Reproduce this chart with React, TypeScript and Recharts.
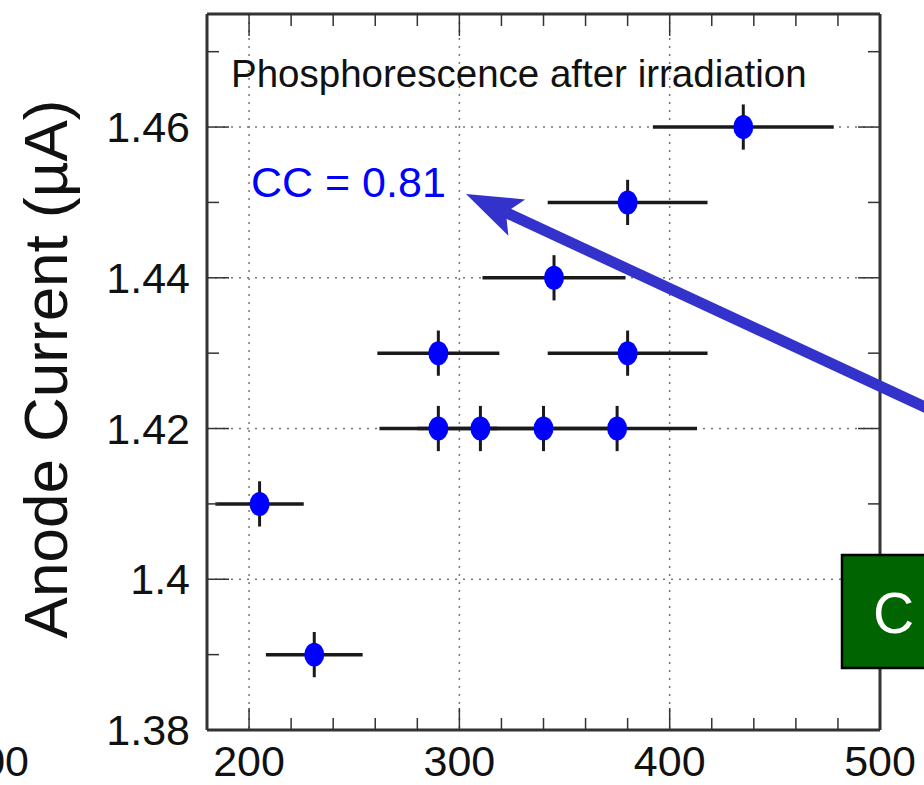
import React from 'react';
import { ScatterChart, Scatter, XAxis, YAxis, CartesianGrid, ErrorBar, ReferenceLine } from 'recharts';

// wavelength (x) vs anode current (y)
const wavelength = [435, 380, 345, 290, 380, 290, 310, 340, 375, 205, 231];
const anodeCurrent = [1.46, 1.45, 1.44, 1.43, 1.43, 1.42, 1.42, 1.42, 1.42, 1.41, 1.39];
const wavelengthErr = [43, 38, 34, 29, 38, 28, 30, 33, 38, 21, 23];
const currentErr = [0.003, 0.003, 0.003, 0.003, 0.003, 0.003, 0.003, 0.003, 0.003, 0.003, 0.003];

const xTicks = [180, 200, 220, 240, 260, 280, 300, 320, 340, 360, 380, 400, 420, 440, 460, 480, 500];
const xLabelTicks = [200, 300, 400, 500];
const yTicks = [1.38, 1.39, 1.4, 1.41, 1.42, 1.43, 1.44, 1.45, 1.46, 1.47];
const yLabelTicks = [1.38, 1.4, 1.42, 1.44, 1.46];
const xGrid = [200, 300, 400];
const yGrid = [1.4, 1.42, 1.44, 1.46];

const data = wavelength.map((x, i) => ({
  x,
  y: anodeCurrent[i],
  xErr: wavelengthErr[i],
  yErr: currentErr[i],
}));

const W = 924;
const H = 785;
const M = { top: 14, right: 44, bottom: 0, left: 0 };
const X_AXIS_H = 55;
const Y_AXIS_W = 207;
const PLOT_W = W - M.left - M.right - Y_AXIS_W;
const PLOT_H = H - M.top - M.bottom - X_AXIS_H;

const FONT = "'Liberation Sans', Arial, Helvetica, sans-serif";
const FRAME = '#333';
const MAJOR = 22;
const MINOR = 12;

const isMajorX = (v: number) => xLabelTicks.includes(v);
const isMajorY = (v: number) => yLabelTicks.some(t => Math.abs(t - v) < 1e-6);
const fmtY = (v: number) => String(Number(v.toFixed(2)));

// bottom axis tick, also draws the mirrored tick on the top frame
const BottomTick = ({ x, y, payload }: any) => {
  const major = isMajorX(payload.value);
  const len = major ? MAJOR : MINOR;
  const top = y - PLOT_H;
  return (
    <g>
      <line x1={x} y1={y} x2={x} y2={y - len} stroke={FRAME} strokeWidth={1.5} />
      <line x1={x} y1={top} x2={x} y2={top + len} stroke={FRAME} strokeWidth={1.5} />
      {major && (
        <text x={x} y={y + 46} textAnchor="middle" fontSize={43} fontFamily={FONT} fill="#111">
          {payload.value}
        </text>
      )}
    </g>
  );
};

// left axis tick, also draws the mirrored tick on the right frame
const LeftTick = ({ x, y, payload }: any) => {
  const major = isMajorY(payload.value);
  const len = major ? MAJOR : MINOR;
  const right = x + PLOT_W;
  return (
    <g>
      <line x1={x} y1={y} x2={x + len} y2={y} stroke={FRAME} strokeWidth={1.5} />
      <line x1={right} y1={y} x2={right - len} y2={y} stroke={FRAME} strokeWidth={1.5} />
      {major && (
        <text x={x - 17} y={y + 15} textAnchor="end" fontSize={43} fontFamily={FONT} fill="#111">
          {fmtY(payload.value)}
        </text>
      )}
    </g>
  );
};

const Dot = ({ cx, cy }: any) => <ellipse cx={cx} cy={cy} rx={10} ry={12} fill="#0000ff" />;

const Annotations = () => {
  // arrow pointing at the CC label, entering from the right edge
  const tip = [466, 194];
  const dir = [0.907, 0.421];
  const perp = [-dir[1], dir[0]];
  const headLen = 56;
  const halfW = 20;
  const base = [tip[0] + dir[0] * headLen, tip[1] + dir[1] * headLen];
  const notch = [tip[0] + dir[0] * 44, tip[1] + dir[1] * 44];
  const w1 = [base[0] + perp[0] * halfW, base[1] + perp[1] * halfW];
  const w2 = [base[0] - perp[0] * halfW, base[1] - perp[1] * halfW];
  const end = [tip[0] + dir[0] * 620, tip[1] + dir[1] * 620];
  return (
    <svg width={W} height={H} style={{ position: 'absolute', left: 0, top: 0, pointerEvents: 'none' }}>
      <text x={231} y={87} fontSize={38.5} fontFamily={FONT} fill="#111">
        Phosphorescence after irradiation
      </text>
      <text x={251} y={197} fontSize={43} fontFamily={FONT} fill="#0000ff">
        CC = 0.81
      </text>
      <line x1={notch[0]} y1={notch[1]} x2={end[0]} y2={end[1]} stroke="#3333cc" strokeWidth={11} />
      <polygon
        points={`${tip[0]},${tip[1]} ${w1[0]},${w1[1]} ${notch[0]},${notch[1]} ${w2[0]},${w2[1]}`}
        fill="#3333cc"
      />
      <rect x={842} y={555} width={100} height={113} fill="#006400" stroke="#000" strokeWidth={2.5} />
      <text x={873} y={633} fontSize={57} fontFamily={FONT} fill="#fff">
        C
      </text>
      <text x={29} y={776} textAnchor="end" fontSize={43} fontFamily={FONT} fill="#111">
        500
      </text>
      <text
        transform="translate(67, 369) rotate(-90)"
        textAnchor="middle"
        fontSize={62}
        fontFamily={FONT}
        fill="#111"
      >
        Anode Current (µA)
      </text>
    </svg>
  );
};

export default function App() {
  return (
    <div style={{ position: 'absolute', left: 0, top: 0, width: W, height: H, background: '#fff', overflow: 'hidden' }}>
      <ScatterChart width={W} height={H} margin={M}>
        <CartesianGrid
          horizontalValues={yGrid}
          verticalValues={xGrid}
          stroke="#777"
          strokeDasharray="2 6"
          strokeWidth={1.5}
        />
        <XAxis
          dataKey="x"
          type="number"
          domain={[180, 500]}
          ticks={xTicks}
          interval={0}
          height={X_AXIS_H}
          tickSize={0}
          tickMargin={0}
          tickLine={false}
          tick={<BottomTick />}
          axisLine={{ stroke: FRAME, strokeWidth: 3 }}
          allowDataOverflow
        />
        <YAxis
          dataKey="y"
          type="number"
          domain={[1.38, 1.475]}
          ticks={yTicks}
          interval={0}
          width={Y_AXIS_W}
          tickSize={0}
          tickMargin={0}
          tickLine={false}
          tick={<LeftTick />}
          axisLine={{ stroke: FRAME, strokeWidth: 3 }}
          allowDataOverflow
        />
        <ReferenceLine x={500} stroke={FRAME} strokeWidth={3} />
        <ReferenceLine y={1.475} stroke={FRAME} strokeWidth={3} />
        <Scatter data={data} shape={<Dot />} isAnimationActive={false}>
          <ErrorBar dataKey="xErr" direction="x" width={0} stroke="#1a1a1a" strokeWidth={3.5} />
          <ErrorBar dataKey="yErr" direction="y" width={0} stroke="#1a1a1a" strokeWidth={3} />
        </Scatter>
      </ScatterChart>
      <Annotations />
    </div>
  );
}
